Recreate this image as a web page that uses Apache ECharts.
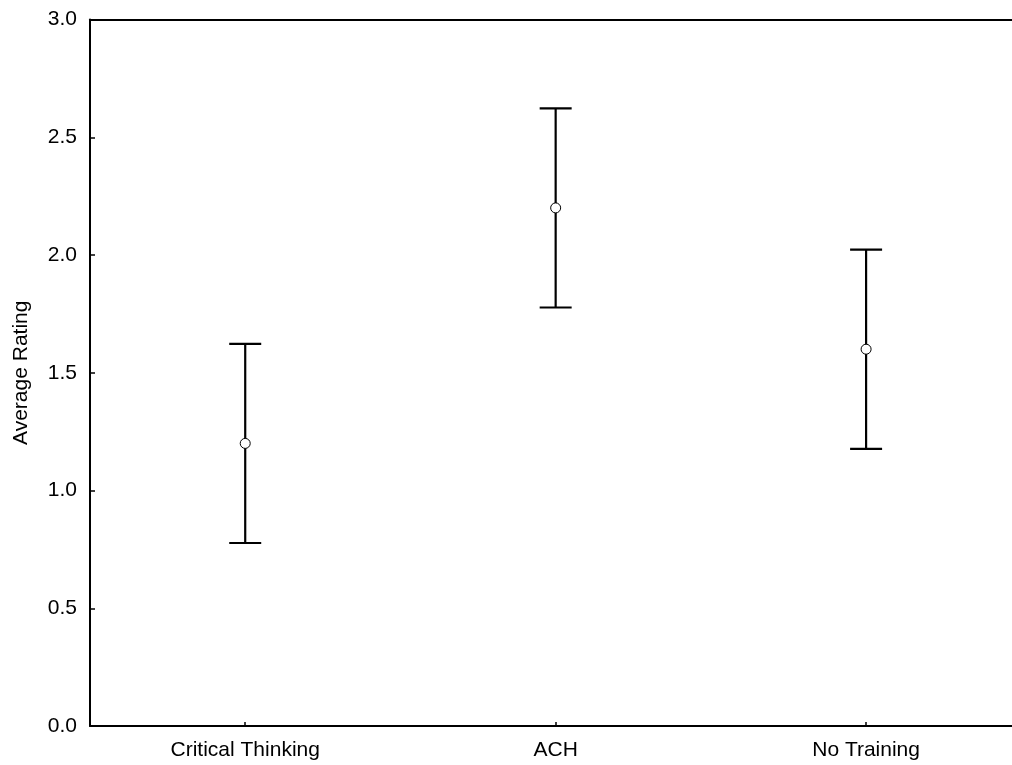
<!DOCTYPE html>
<html>
<head>
<meta charset="utf-8">
<script src="https://cdn.jsdelivr.net/npm/echarts@6/dist/echarts.min.js"></script>
<style>html,body{margin:0;padding:0;background:#fff;}#c{width:1012px;height:765px;}</style>
</head>
<body>
<div id="c"></div>
<script>
const categories = ['Critical Thinking', 'ACH', 'No Training'];
const categoryPos = [1, 2, 3];
const means = [1.2, 2.2, 1.6];
const upper = [1.623, 2.623, 2.023];
const lower = [0.777, 1.777, 1.177];
const yTicks = ['0.0', '0.5', '1.0', '1.5', '2.0', '2.5', '3.0'];

const chart = echarts.init(document.getElementById('c'), null, {renderer: 'canvas'});
const font = 'Arial, "Liberation Sans", sans-serif';
const errData = categories.map((c, i) => [categoryPos[i], lower[i], upper[i]]);

chart.setOption({
  animation: false,
  backgroundColor: '#fff',
  grid: {left: 90, top: 19.5, right: 0, bottom: 39},
  xAxis: [{
    type: 'value',
    min: 0.5, max: 3.47,
    axisLine: {show: true, lineStyle: {color: '#000', width: 2}},
    axisTick: {show: true, inside: true, length: 4, customValues: categoryPos, lineStyle: {color: '#000', width: 1.5}},
    axisLabel: {show: true, color: '#000', fontFamily: font, fontSize: 21, margin: 14,
      customValues: categoryPos,
      formatter: (v) => categories[categoryPos.indexOf(Math.round(v))] || ''},
    splitLine: {show: false}
  }, {
    type: 'value',
    min: 0.5, max: 3.47,
    position: 'top',
    axisLine: {show: true, lineStyle: {color: '#000', width: 2}},
    axisTick: {show: false},
    axisLabel: {show: false},
    splitLine: {show: false}
  }],
  yAxis: {
    type: 'value',
    min: 0, max: 3, interval: 0.5,
    name: 'Average Rating',
    nameLocation: 'middle',
    nameGap: 58,
    nameTextStyle: {color: '#000', fontFamily: font, fontSize: 21},
    axisLine: {show: true, lineStyle: {color: '#000', width: 2}},
    axisTick: {show: true, inside: true, length: 5, lineStyle: {color: '#000', width: 1.5}},
    axisLabel: {color: '#000', fontFamily: font, fontSize: 21, margin: 13,
      formatter: (v) => yTicks[Math.round(v / 0.5)]},
    splitLine: {show: false}
  },
  series: [{
    type: 'custom',
    data: errData,
    renderItem: function (params, api) {
      const x = api.value(0);
      const lo = api.coord([x, api.value(1)]);
      const hi = api.coord([x, api.value(2)]);
      const hw = 16;
      const st = {stroke: '#000', lineWidth: 2.2};
      return {
        type: 'group',
        children: [
          {type: 'line', shape: {x1: hi[0], y1: hi[1], x2: lo[0], y2: lo[1]}, style: st},
          {type: 'line', shape: {x1: hi[0] - hw, y1: hi[1], x2: hi[0] + hw, y2: hi[1]}, style: st},
          {type: 'line', shape: {x1: lo[0] - hw, y1: lo[1], x2: lo[0] + hw, y2: lo[1]}, style: st}
        ]
      };
    },
    z: 2
  }, {
    type: 'scatter',
    data: means.map((m, i) => [categoryPos[i], m]),
    symbol: 'circle',
    symbolSize: 10,
    itemStyle: {color: '#fff', borderColor: '#000', borderWidth: 1, opacity: 1},
    z: 3
  }]
});
</script>
</body>
</html>
